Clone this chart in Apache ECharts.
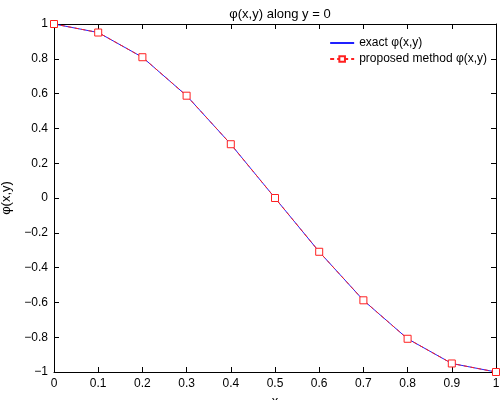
<!DOCTYPE html>
<html>
<head>
<meta charset="utf-8">
<script src="https://cdn.jsdelivr.net/npm/echarts@6/dist/echarts.min.js"></script>
<style>
  html, body { margin: 0; padding: 0; background: #fff; }
  #main { width: 500px; height: 400px; }
</style>
</head>
<body>
<div id="main"></div>
<script>
// values
var xs = [0, 0.1, 0.2, 0.3, 0.4, 0.5, 0.6, 0.7, 0.8, 0.9, 1];
var exactPhi = [1, 0.951, 0.809, 0.588, 0.309, 0, -0.309, -0.588, -0.809, -0.951, -1];
var proposedPhi = [1, 0.951, 0.809, 0.588, 0.309, 0, -0.309, -0.588, -0.809, -0.951, -1];

function pairs(x, y) {
    var out = [];
    for (var i = 0; i < x.length; i++) out.push([x[i], y[i]]);
    return out;
}

function fmt(v) {
    var s = String(Math.round(v * 10) / 10);
    return s.replace('-', '\u2212');
}

var chartDom = document.getElementById('main');
var myChart = echarts.init(chartDom);
var option;

var font = 'Liberation Sans, Arial, sans-serif';

var baseAxis = {
    type: 'value',
    min: 0,
    max: 1,
    interval: 0.1,
    splitLine: { show: false },
    axisLine: { show: true, onZero: false, lineStyle: { color: '#000', width: 1 } },
    axisTick: { show: true, inside: true, length: 5, lineStyle: { color: '#000' } }
};

option = {
    animation: false,
    textStyle: { fontFamily: font },
    title: {
        text: '\u03c6(x,y) along y = 0',
        left: 275,
        textAlign: 'center',
        top: 3,
        textStyle: { fontSize: 13, fontWeight: 'normal', color: '#000', fontFamily: font }
    },
    grid: { left: 54, right: 4, top: 24, bottom: 28, containLabel: false, outerBoundsMode: 'none' },
    legend: {
        orient: 'vertical',
        right: 8,
        top: 32,
        itemGap: 4,
        itemWidth: 24,
        itemHeight: 7,
        textStyle: { fontSize: 12, color: '#000', fontFamily: font },
        data: [
            { name: 'exact \u03c6(x,y)', itemStyle: { opacity: 0 } },
            { name: 'proposed method \u03c6(x,y)' }
        ]
    },
    xAxis: [
        Object.assign({}, baseAxis, {
            position: 'bottom',
            name: 'x',
            nameLocation: 'middle',
            nameGap: 21,
            nameTextStyle: { fontSize: 13, color: '#000' },
            axisLabel: { color: '#000', fontSize: 12, margin: 6, formatter: fmt }
        }),
        Object.assign({}, baseAxis, {
            position: 'top',
            axisLabel: { show: false }
        })
    ],
    yAxis: [
        Object.assign({}, baseAxis, {
            min: -1, max: 1, interval: 0.2,
            position: 'left',
            name: '\u03c6(x,y)',
            nameLocation: 'middle',
            nameGap: 33,
            nameTextStyle: { fontSize: 13, color: '#000' },
            axisLabel: { color: '#000', fontSize: 12, margin: 6, formatter: fmt }
        }),
        Object.assign({}, baseAxis, {
            min: -1, max: 1, interval: 0.2,
            position: 'right',
            axisLabel: { show: false }
        })
    ],
    series: [
        {
            name: 'exact \u03c6(x,y)',
            type: 'line',
            xAxisIndex: 0,
            yAxisIndex: 0,
            data: pairs(xs, exactPhi),
            symbol: 'none',
            lineStyle: { color: '#2020ff', width: 1 },
            itemStyle: { color: '#2020ff' },
            z: 2
        },
        {
            name: 'proposed method \u03c6(x,y)',
            type: 'line',
            xAxisIndex: 0,
            yAxisIndex: 0,
            data: pairs(xs, proposedPhi),
            symbol: 'rect',
            symbolSize: 7,
            showSymbol: true,
            lineStyle: { color: '#ff2020', width: 1, type: [4, 3] },
            itemStyle: { color: '#fff', borderColor: '#ff2020', borderWidth: 1 },
            z: 3
        }
    ]
};

option && myChart.setOption(option);
window.addEventListener("resize", function () {
    myChart.resize();
});
</script>
</body>
</html>
